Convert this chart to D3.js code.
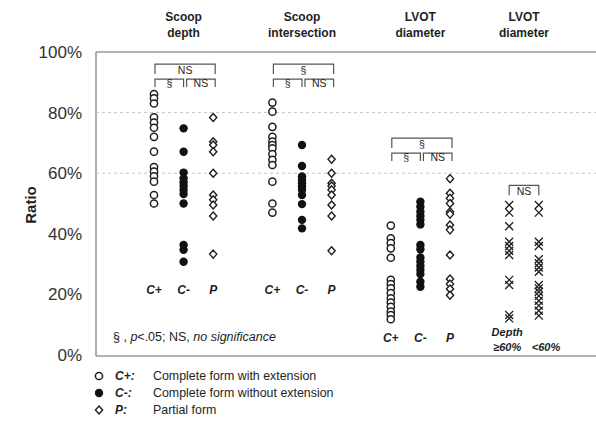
<!DOCTYPE html>
<html>
<head>
<meta charset="utf-8">
<script src="https://cdn.jsdelivr.net/npm/d3@7"></script>
<style>
  html, body { margin: 0; padding: 0; background: #fff; }
  svg { display: block; font-family: "Liberation Sans", Arial, sans-serif; }
</style>
</head>
<body>
<svg id="chart" width="596" height="424"></svg>
<script>
// Column slots along the x axis (gaps separate the measurement groups)
const slots = ["sd_Cp", "sd_Cm", "sd_P", "g1", "si_Cp", "si_Cm", "si_P", "g2",
               "lv_Cp", "lv_Cm", "lv_P", "g3", "dp_hi", "dp_lo"];

// Ratio values (%) per group and form
const scoopDepthCplus  = [86.1, 84.7, 83, 78.4, 76.7, 75, 72, 67.1, 62, 60.5, 59, 57.2, 52.8, 50];
const scoopDepthCminus = [74.8, 67.1, 60.2, 58.3, 57, 55.8, 54.5, 53.1, 50, 36.3, 34.7, 30.8];
const scoopDepthP      = [78.4, 70.4, 69.3, 67.1, 60, 52.8, 51.2, 49.5, 45.9, 33.3];

const scoopInterCplus  = [83.3, 80.3, 75.3, 72, 70.4, 69.3, 68.2, 66.3, 64.4, 62.7, 57.2, 50, 47];
const scoopInterCminus = [69.3, 62.4, 58.9, 57.8, 56.7, 55.5, 54.5, 52.8, 49.8, 44.6, 41.8];
const scoopInterP      = [64.6, 60, 56.7, 55.8, 54.5, 52.8, 49.5, 45.9, 34.4];

const lvotCplus  = [42.7, 38.5, 36.9, 35.2, 32.1, 24.8, 23.4, 22, 20.4, 18.7, 17.3, 15.9, 14.3, 13.2, 11.8];
const lvotCminus = [50.6, 48.9, 47.3, 45.9, 44.6, 43.1, 36.3, 34.9, 32.2, 30.8, 29.4, 28.1, 26.7, 24.2, 22.5];
const lvotP      = [58.2, 53.4, 51.7, 50, 47.3, 46.5, 42.9, 41.3, 33, 25.1, 23.4, 21.8, 19.7];

const lvotDepthHigh = [49.5, 47, 42.5, 37.4, 36, 34.4, 33, 24.8, 23.1, 13.2, 12.1];
const lvotDepthLow  = [49.5, 47, 37.4, 36, 31.6, 30.3, 28.9, 27.5, 23.1, 22, 20.9, 19.5, 17.9, 16.3, 14.6, 13];

// Groups: header text and the slot at each header's centre
const groupHeaders = [["Scoop", "depth"], ["Scoop", "intersection"], ["LVOT", "diameter"], ["LVOT", "diameter"]];
const groupCenters = [1, 5, 9, 12.5];
const catLabels = ["C+", "C-", "P"];
const yTicks = [0, 20, 40, 60, 80, 100];
const gridLines = [60, 80];

const series = [
  { slot: "sd_Cp", kind: "open",    values: scoopDepthCplus },
  { slot: "sd_Cm", kind: "filled",  values: scoopDepthCminus },
  { slot: "sd_P",  kind: "diamond", values: scoopDepthP },
  { slot: "si_Cp", kind: "open",    values: scoopInterCplus },
  { slot: "si_Cm", kind: "filled",  values: scoopInterCminus },
  { slot: "si_P",  kind: "diamond", values: scoopInterP },
  { slot: "lv_Cp", kind: "open",    values: lvotCplus },
  { slot: "lv_Cm", kind: "filled",  values: lvotCminus },
  { slot: "lv_P",  kind: "diamond", values: lvotP },
  { slot: "dp_hi", kind: "cross",   values: lvotDepthHigh },
  { slot: "dp_lo", kind: "cross",   values: lvotDepthLow }
];

// Comparison brackets: outer (C+ vs P) and inner pair (C+ vs C-, C- vs P);
// "top" is the ratio level of the outer bracket, "labelAt" the level of the C+/C-/P labels
const brackets = [
  { cols: ["sd_Cp", "sd_Cm", "sd_P"], outer: "NS", left: "§", right: "NS", top: 96,   labelAt: 20 },
  { cols: ["si_Cp", "si_Cm", "si_P"], outer: "§",  left: "§", right: "NS", top: 96,   labelAt: 20 },
  { cols: ["lv_Cp", "lv_Cm", "lv_P"], outer: "§",  left: "§", right: "NS", top: 71.6, labelAt: 4.3 }
];
const singleBrackets = [{ cols: ["dp_hi", "dp_lo"], label: "NS", top: 56 }];

const legendItems = [
  { kind: "open",    key: "C+:", text: "Complete form with extension" },
  { kind: "filled",  key: "C-:", text: "Complete form without extension" },
  { kind: "diamond", key: "P:",  text: "Partial form" }
];

const svg = d3.select("#chart");
const ink = "#1e1e1e";

const x = d3.scalePoint().domain(slots).range([154, 538.8]);
const y = d3.scaleLinear().domain([0, 100]).range([355, 52]);
const xAt = i => x.range()[0] + i * x.step();

// Frame
const frame = svg.append("g").attr("stroke", "#9a9a9a").attr("stroke-width", 1.6).attr("fill", "none");
frame.append("line").attr("x1", 96).attr("x2", 596).attr("y1", y(100)).attr("y2", y(100));
frame.append("line").attr("x1", 96).attr("x2", 596).attr("y1", y(0) + 1).attr("y2", y(0) + 1);
frame.append("line").attr("x1", 96).attr("x2", 96).attr("y1", y(100)).attr("y2", y(0) + 1);

// Dashed reference lines
svg.append("g").selectAll("line").data(gridLines).join("line")
  .attr("x1", 96).attr("x2", 596)
  .attr("y1", d => y(d)).attr("y2", d => y(d))
  .attr("stroke", "#c4c4c4").attr("stroke-width", 1).attr("stroke-dasharray", "3,3");

// Y axis labels
const yAxis = svg.append("g").attr("transform", "translate(96,0)")
  .call(d3.axisLeft(y).tickValues(yTicks).tickFormat(d => d + "%").tickSize(0).tickPadding(14));
yAxis.select(".domain").remove();
yAxis.selectAll("text").attr("font-size", 17).attr("fill", "#333")
  .attr("font-family", "'Liberation Sans', Arial, sans-serif");

svg.append("text").attr("transform", "translate(36,205) rotate(-90)")
  .attr("text-anchor", "middle").attr("font-size", 15).attr("font-weight", "bold").attr("fill", ink)
  .text("Ratio");

// Group headers
groupHeaders.forEach((lines, i) => {
  const t = svg.append("text").attr("text-anchor", "middle").attr("font-size", 12)
    .attr("font-weight", "bold").attr("fill", ink);
  lines.forEach((ln, k) => t.append("tspan").attr("x", xAt(groupCenters[i])).attr("y", 21 + k * 16).text(ln));
});

// Category labels under each of the first three groups
brackets.forEach(b => {
  b.cols.forEach((c, k) => {
    svg.append("text").attr("x", x(c)).attr("y", y(b.labelAt))
      .attr("text-anchor", "middle").attr("font-size", 12).attr("font-weight", "bold")
      .attr("font-style", "italic").attr("fill", ink).text(catLabels[k]);
  });
});
const depthLab = (tx, ty, txt, anchor) => svg.append("text").attr("x", tx).attr("y", ty)
  .attr("text-anchor", anchor).attr("font-size", 11).attr("font-weight", "bold")
  .attr("font-style", "italic").attr("fill", ink).text(txt);
depthLab(x("dp_hi") - 2, 336, "Depth", "middle");
depthLab(x("dp_hi") - 2, 351, "≥60%", "middle");
depthLab(x("dp_lo") - 7, 351, "<60%", "start");

// Marker shapes
function drawMarker(sel, kind) {
  if (kind === "open") {
    sel.append("circle").attr("r", 3.6).attr("fill", "#fff").attr("stroke", ink).attr("stroke-width", 1.5);
  } else if (kind === "filled") {
    sel.append("circle").attr("r", 4.2).attr("fill", "#111");
  } else if (kind === "diamond") {
    sel.append("path").attr("d", "M0,-4L3.6,0L0,4L-3.6,0Z")
      .attr("fill", "#fff").attr("stroke", ink).attr("stroke-width", 1.4);
  } else {
    sel.append("path").attr("d", "M-4,-4L4,4M4,-4L-4,4")
      .attr("fill", "none").attr("stroke", ink).attr("stroke-width", 1.3);
  }
}

series.forEach(s => {
  const g = svg.append("g");
  s.values.forEach(v => {
    const m = g.append("g").attr("transform", `translate(${x(s.slot)},${y(v)})`);
    drawMarker(m, s.kind);
  });
});

// Brackets
const bStroke = "#555";
function bracket(x1, x2, yTop, drop, label) {
  const g = svg.append("g");
  g.append("path").attr("d", `M${x1},${yTop + drop}V${yTop}H${x2}V${yTop + drop}`)
    .attr("fill", "none").attr("stroke", bStroke).attr("stroke-width", 1.2);
  g.append("text").attr("x", (x1 + x2) / 2).attr("y", yTop + drop - 0.5)
    .attr("text-anchor", "middle").attr("font-size", 10.5).attr("fill", ink).text(label);
}
brackets.forEach(b => {
  const [a, m, c] = b.cols.map(k => x(k));
  const yo = y(b.top);
  bracket(a + 1, c + 2, yo, 10, b.outer);
  bracket(a + 1, m, yo + 15, 8, b.left);
  bracket(m + 3, c + 2, yo + 15, 8, b.right);
});
singleBrackets.forEach(b => {
  const [a, c] = b.cols.map(k => x(k));
  bracket(a, c, y(b.top), 10, b.label);
});

// Significance note
const note = svg.append("text").attr("x", 113).attr("y", 341).attr("font-size", 12.5).attr("fill", ink);
note.append("tspan").text("§ , ");
note.append("tspan").attr("font-style", "italic").text("p");
note.append("tspan").text("<.05; NS, ");
note.append("tspan").attr("font-style", "italic").text("no significance");

// Legend
legendItems.forEach((it, i) => {
  const yy = 376 + i * 17;
  const m = svg.append("g").attr("transform", `translate(99,${yy})`);
  drawMarker(m, it.kind);
  svg.append("text").attr("x", 115).attr("y", yy + 4).attr("font-size", 12).attr("font-weight", "bold")
    .attr("font-style", "italic").attr("fill", ink).text(it.key);
  svg.append("text").attr("x", 153).attr("y", yy + 4).attr("font-size", 12.4).attr("fill", ink).text(it.text);
});
</script>
</body>
</html>
